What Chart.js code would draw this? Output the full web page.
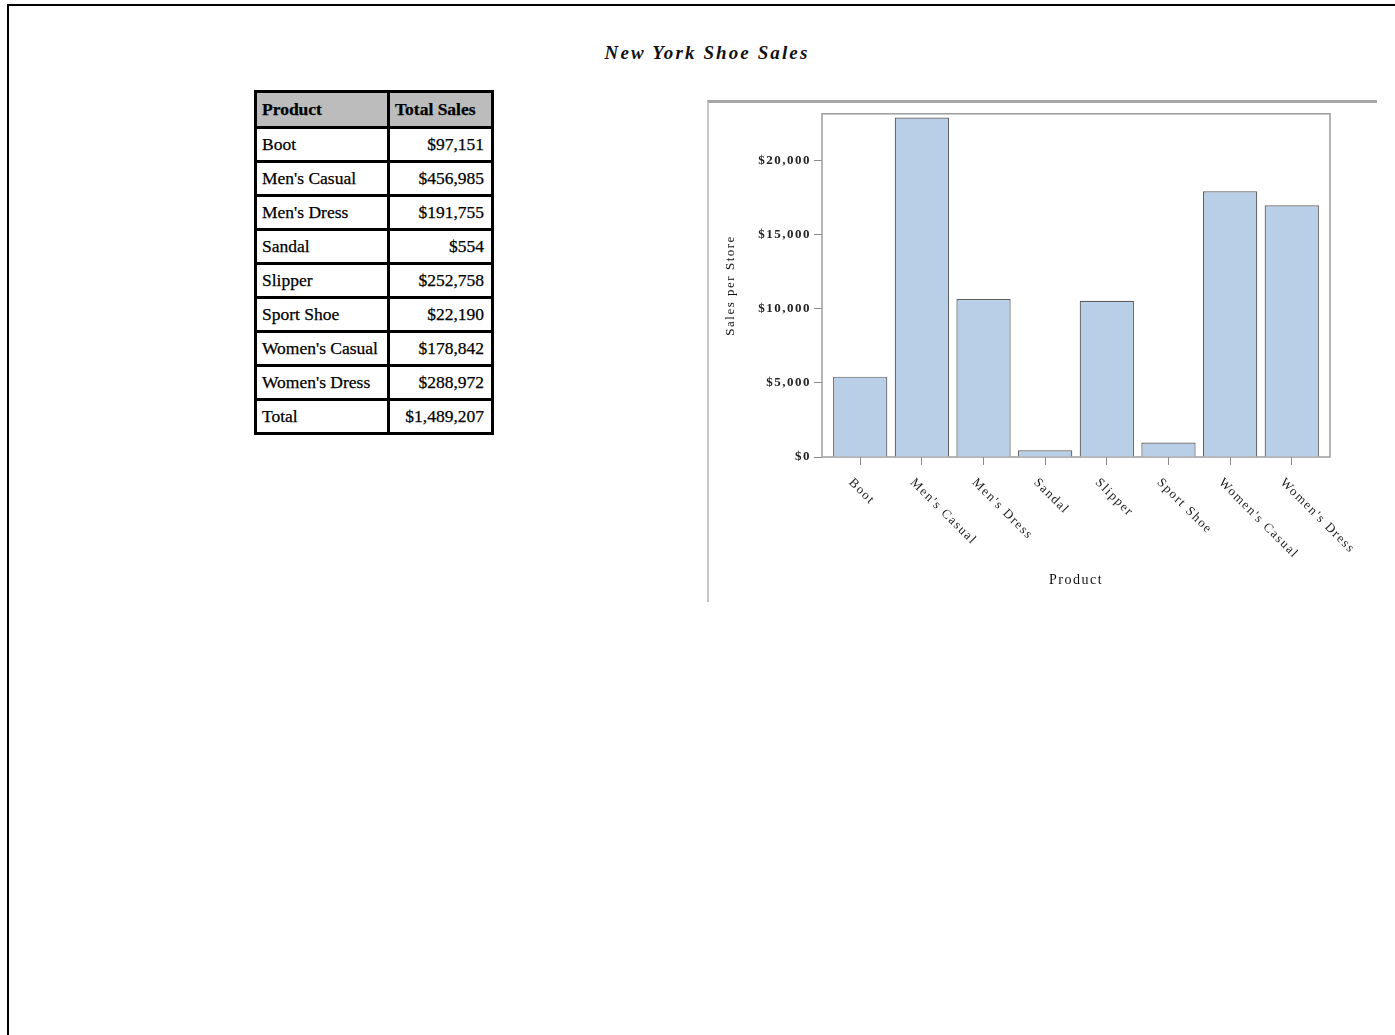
<!DOCTYPE html>
<html>
<head>
<meta charset="utf-8">
<title>New York Shoe Sales</title>
<script src="https://cdn.jsdelivr.net/npm/chart.js@4.4.1/dist/chart.umd.min.js"></script>
<style>
    html, body {
        margin: 0;
        padding: 0;
        background: #fff;
        overflow: hidden;
    }
    body {
        position: relative;
        width: 1395px;
        height: 1035px;
        font-family: "Liberation Serif", "Times New Roman", serif;
        color: #000;
    }
    .page-edge {
        position: absolute;
        left: 7px;
        top: 4px;
        width: 1500px;
        height: 1100px;
        border-left: 2px solid #000;
        border-top: 2px solid #000;
    }
    .report-title {
        position: absolute;
        left: 0;
        top: 43px;
        width: 1414px;
        text-align: center;
        font: italic bold 19px/20px "Liberation Serif", serif;
        letter-spacing: 2.1px;
        color: #111;
    }
    table.sales {
        position: absolute;
        left: 254px;
        top: 90px;
        width: 237px;
        table-layout: fixed;
        border-collapse: collapse;
        font-size: 17.5px;
        -webkit-text-stroke: 0.25px #000;
    }
    table.sales th,
    table.sales td {
        border: 3px solid #000;
        height: 31px;
        padding: 0 7px 0 5px;
        white-space: nowrap;
        overflow: hidden;
    }
    table.sales th {
        height: 33px;
        background: #bcbcbc;
        text-align: left;
        font-weight: bold;
    }
    table.sales td.num {
        text-align: right;
    }
    .chart-frame {
        position: absolute;
        left: 707px;
        top: 100px;
        width: 670px;
        height: 502px;
        box-sizing: border-box;
        border-top: 3px solid #a6a6a6;
        border-left: 2px solid #c6c6c6;
    }
    .chart-box {
        position: absolute;
        left: 709px;
        top: 103px;
        width: 686px;
        height: 500px;
    }
</style>
</head>
<body>
<div class="page-edge"></div>
<div class="report-title">New York Shoe Sales</div>

<table class="sales" id="salesTable">
    <colgroup><col style="width:133px"><col style="width:104px"></colgroup>
    <thead><tr><th>Product</th><th>Total Sales</th></tr></thead>
    <tbody></tbody>
</table>

<div class="chart-frame"></div>
<div class="chart-box"><canvas id="salesChart"></canvas></div>

<script>
// Product lines and their figures
const products = ['Boot', "Men's Casual", "Men's Dress", 'Sandal', 'Slipper', 'Sport Shoe', "Women's Casual", "Women's Dress"];
const totalSales = [97151, 456985, 191755, 554, 252758, 22190, 178842, 288972];
const salesPerStore = [5420, 22900, 10650, 450, 10540, 980, 17920, 16980];

// Y axis tick values and top of the value axis
const yTickValues = [0, 5000, 10000, 15000, 20000];
const yAxisMax = 23150;

const serif = '"Liberation Serif", "Times New Roman", serif';
const money = v => '$' + v.toLocaleString('en-US');

/**
 * Totals table
 */
function buildSalesTable() {
    const tbody = document.querySelector('#salesTable tbody');
    const addRow = (name, value) => {
        const tr = document.createElement('tr');
        const tdName = document.createElement('td');
        tdName.textContent = name;
        const tdValue = document.createElement('td');
        tdValue.className = 'num';
        tdValue.textContent = money(value);
        tr.appendChild(tdName);
        tr.appendChild(tdValue);
        tbody.appendChild(tr);
    };
    products.forEach((p, i) => addRow(p, totalSales[i]));
    addRow('Total', totalSales.reduce((a, b) => a + b, 0));
}

/**
 * Plot frame plus slanted product labels under each tick
 */
const plotDecor = {
    id: 'plotDecor',
    beforeDraw(chart) {
        chart.ctx.letterSpacing = '1.5px';
    },
    beforeDatasetsDraw(chart) {
        const { ctx, chartArea: a } = chart;
        ctx.save();
        ctx.strokeStyle = '#9c9c9c';
        ctx.lineWidth = 1.5;
        ctx.strokeRect(a.left, a.top, a.right - a.left, a.bottom - a.top);
        ctx.restore();
    },
    afterDraw(chart) {
        const { ctx } = chart;
        const x = chart.scales.x;
        ctx.save();
        ctx.fillStyle = '#1a1a1a';
        ctx.font = '13px ' + serif;
        ctx.textAlign = 'left';
        ctx.textBaseline = 'alphabetic';
        products.forEach((p, i) => {
            const px = x.getPixelForValue(i);
            ctx.save();
            ctx.translate(px - 12, x.top + 26);
            ctx.rotate(Math.PI / 4);
            ctx.fillText(p, 0, 0);
            ctx.restore();
        });
        ctx.restore();
    }
};

function initSalesChart() {
    const canvas = document.getElementById('salesChart');
    if (!canvas) return;

    new Chart(canvas.getContext('2d'), {
        type: 'bar',
        data: {
            datasets: [{
                label: 'Sales per Store',
                data: products.map((p, i) => ({ x: i, y: salesPerStore[i] })),
                backgroundColor: '#b9cfe7',
                borderColor: '#5c5c5c',
                borderWidth: 1.2,
                barPercentage: 0.88,
                categoryPercentage: 1
            }]
        },
        options: {
            responsive: true,
            maintainAspectRatio: false,
            animation: false,
            layout: {
                padding: { top: 10, right: 65, bottom: 0, left: 0 }
            },
            plugins: {
                legend: { display: false },
                tooltip: { enabled: false }
            },
            scales: {
                x: {
                    type: 'linear',
                    offset: false,
                    min: -0.62,
                    max: 7.62,
                    afterBuildTicks: axis => {
                        axis.ticks = products.map((p, i) => ({ value: i }));
                    },
                    afterFit: axis => {
                        axis.height = 146;
                    },
                    ticks: { display: false },
                    grid: {
                        offset: false,
                        drawOnChartArea: false,
                        tickLength: 8,
                        color: '#8a8a8a'
                    },
                    border: { display: false },
                    title: {
                        display: true,
                        text: 'Product',
                        color: '#111',
                        font: { family: serif, size: 14 },
                        padding: { top: 0, bottom: 14 }
                    }
                },
                y: {
                    min: 0,
                    max: yAxisMax,
                    afterBuildTicks: axis => {
                        axis.ticks = yTickValues.map(v => ({ value: v }));
                    },
                    afterFit: axis => {
                        axis.width = 113;
                    },
                    ticks: {
                        color: '#222',
                        padding: 3,
                        font: { family: serif, size: 13, weight: 'bold' },
                        callback: function(value) {
                            return money(value);
                        }
                    },
                    grid: {
                        drawOnChartArea: false,
                        tickLength: 8,
                        color: '#8a8a8a'
                    },
                    border: { display: false },
                    title: {
                        display: true,
                        text: 'Sales per Store',
                        color: '#111',
                        font: { family: serif, size: 13 },
                        padding: { top: 14, bottom: 0 }
                    }
                }
            }
        },
        plugins: [plotDecor]
    });
}

buildSalesTable();
initSalesChart();
</script>
</body>
</html>
